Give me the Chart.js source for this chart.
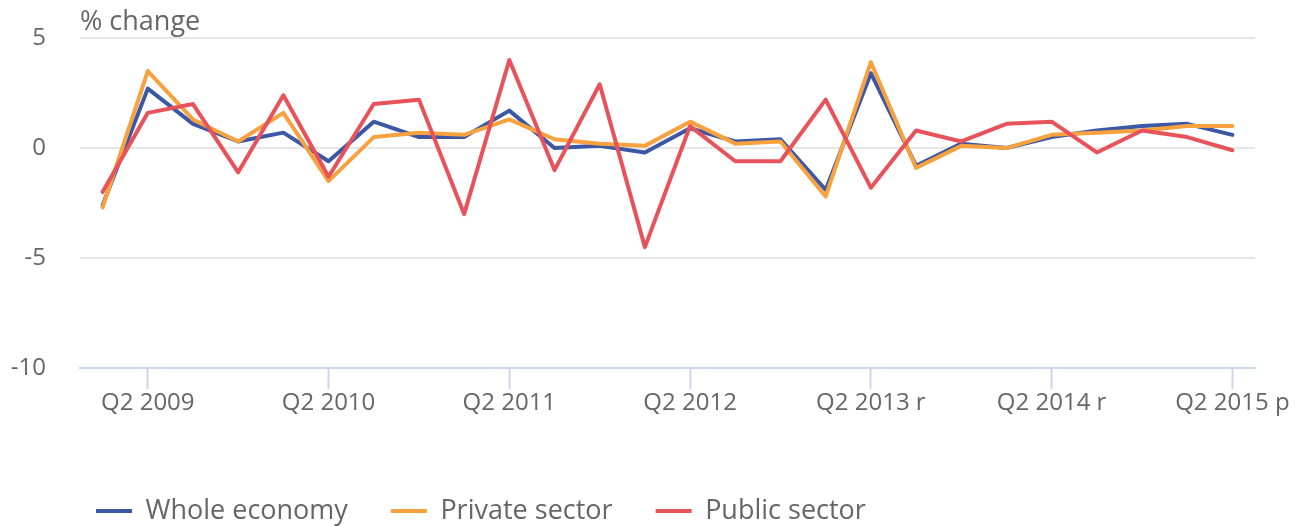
<!DOCTYPE html>
<html>
<head>
<meta charset="utf-8">
<script src="https://cdn.jsdelivr.net/npm/chart.js@4/dist/chart.umd.min.js"></script>
<style>html,body{margin:0;padding:0;background:#fff}canvas{display:block}</style>
</head>
<body>
<canvas id="c" width="1300" height="526"></canvas>
<script>
// ---- data ----
const quarters = [
  'Q1 2009','Q2 2009','Q3 2009','Q4 2009',
  'Q1 2010','Q2 2010','Q3 2010','Q4 2010',
  'Q1 2011','Q2 2011','Q3 2011','Q4 2011',
  'Q1 2012','Q2 2012','Q3 2012','Q4 2012',
  'Q1 2013','Q2 2013 r','Q3 2013','Q4 2013',
  'Q1 2014','Q2 2014 r','Q3 2014','Q4 2014',
  'Q1 2015','Q2 2015 p'
];
const wholeEconomy  = [-2.6, 2.7, 1.1, 0.3, 0.7, -0.6, 1.2, 0.5, 0.5, 1.7, 0.0, 0.1, -0.2, 0.9, 0.3, 0.4, -1.9, 3.4, -0.8, 0.2, 0.0, 0.5, 0.8, 1.0, 1.1, 0.6];
const privateSector = [-2.7, 3.5, 1.3, 0.3, 1.6, -1.5, 0.5, 0.7, 0.6, 1.3, 0.4, 0.2, 0.1, 1.2, 0.2, 0.3, -2.2, 3.9, -0.9, 0.1, 0.0, 0.6, 0.7, 0.8, 1.0, 1.0];
const publicSector  = [-2.0, 1.6, 2.0, -1.1, 2.4, -1.3, 2.0, 2.2, -3.0, 4.0, -1.0, 2.9, -4.5, 1.0, -0.6, -0.6, 2.2, -1.8, 0.8, 0.3, 1.1, 1.2, -0.2, 0.8, 0.5, -0.1];
const seriesNames = ['Whole economy', 'Private sector', 'Public sector'];
const yTickValues = [-10, -5, 0, 5];
const yAxisTitle = '% change';

// ---- style ----
const FONT = "'Open Sans', 'Noto Sans', sans-serif";
const TEXT = '#666666';
const AXIS = '#ccd6eb';
const GRID = '#e6e6e6';
const COLORS = ['#3c58a4', '#f7a23e', '#e8525a'];

const layoutPlugin = {
  id: 'layoutTweaks',
  afterLayout(chart) {
    const lg = chart.legend;
    if (!lg) return;
    const pad = lg.options.labels.padding;
    const fs = lg.options.labels.font.size;
    const dx = 96 - (lg.left + pad);
    lg.left += dx; lg.right += dx;
    const newTop = 511 - fs / 2 - pad;
    lg.bottom += newTop - lg.top;
    lg.top = newTop;
  },
  afterDraw(chart) {
    const ctx = chart.ctx;
    ctx.save();
    ctx.font = `27px ${FONT}`;
    ctx.fillStyle = TEXT;
    ctx.textAlign = 'left';
    ctx.textBaseline = 'alphabetic';
    ctx.fillText(yAxisTitle, chart.chartArea.left, 30);
    ctx.restore();
  }
};

const series = [wholeEconomy, privateSector, publicSector];
new Chart(document.getElementById('c'), {
  type: 'line',
  data: {
    labels: quarters,
    datasets: series.map((d, i) => ({
      label: seriesNames[i],
      data: d,
      borderColor: COLORS[i],
      backgroundColor: COLORS[i],
      borderWidth: 4,
      pointRadius: 0,
      pointHoverRadius: 0,
      tension: 0,
      fill: false,
      borderJoinStyle: 'round',
      borderCapStyle: 'round',
      order: 3 - i
    }))
  },
  options: {
    responsive: false,
    animation: false,
    devicePixelRatio: 1,
    layout: { padding: { left: 11, right: 45, top: 38, bottom: 28 }, autoPadding: false },
    plugins: {
      tooltip: { enabled: false },
      legend: {
        position: 'bottom',
        align: 'start',
        labels: {
          boxWidth: 36,
          boxHeight: 4,
          padding: 43,
          color: TEXT,
          font: { size: 27, family: FONT },
          generateLabels: chart => chart.data.datasets.map((ds, i) => ({
            text: ds.label,
            fillStyle: ds.borderColor,
            strokeStyle: ds.borderColor,
            lineWidth: 0,
            hidden: false,
            fontColor: TEXT,
            datasetIndex: i
          }))
        }
      }
    },
    scales: {
      x: {
        offset: true,
        afterFit: s => { s.paddingLeft = 0; s.paddingRight = 0; },
        grid: {
          display: true,
          drawOnChartArea: false,
          drawTicks: true,
          offset: false,
          tickLength: 21,
          tickWidth: 2,
          tickColor: c => (c.index % 4 === 1 ? AXIS : 'rgba(0,0,0,0)')
        },
        border: { display: true, color: AXIS, width: 2 },
        ticks: {
          autoSkip: false,
          maxRotation: 0,
          minRotation: 0,
          padding: 0,
          color: TEXT,
          font: { size: 24, family: FONT },
          callback: (v, i) => (i % 4 === 1 ? quarters[i] : '')
        }
      },
      y: {
        min: yTickValues[0],
        max: yTickValues[yTickValues.length - 1],
        afterBuildTicks: s => { s.ticks = yTickValues.map(v => ({ value: v })); },
        afterFit: s => { s.width = 69; s.paddingTop = 0; s.paddingBottom = 0; },
        grid: {
          drawTicks: false,
          lineWidth: 2,
          color: c => (c.tick && c.tick.value === yTickValues[0] ? 'rgba(0,0,0,0)' : GRID)
        },
        border: { display: false },
        ticks: {
          padding: 34,
          color: TEXT,
          font: { size: 24, family: FONT }
        }
      }
    }
  },
  plugins: [layoutPlugin]
});
</script>
</body>
</html>
